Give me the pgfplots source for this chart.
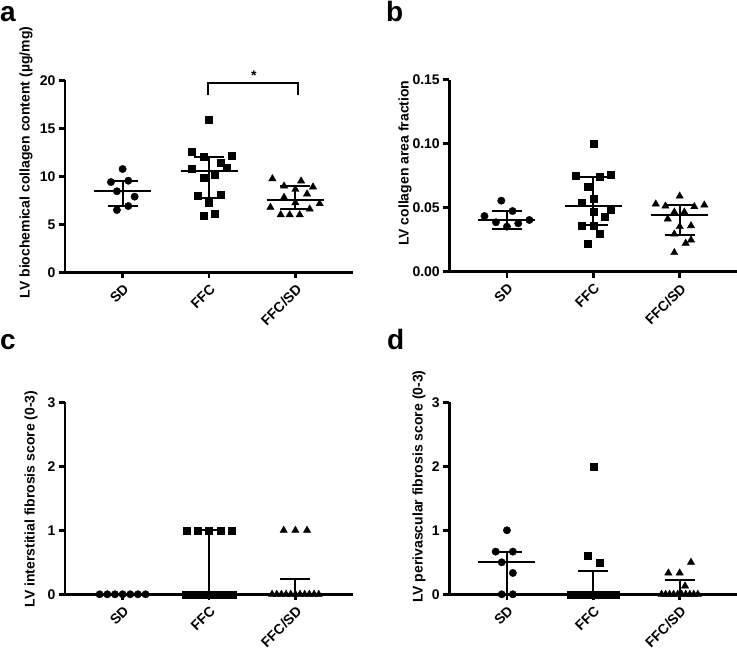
\documentclass[border=0pt]{standalone}
\usepackage{pgfplots}
\pgfplotsset{compat=1.18}
\usepackage{fontspec}
\setmainfont{Liberation Sans}
\newcommand{\tickfnt}{\fontsize{14}{16}\selectfont\bfseries}
\newcommand{\labfnt}{\fontsize{14}{16}\selectfont\bfseries}
\newcommand{\letfnt}{\fontsize{28}{30}\selectfont\bfseries}
\pgfplotsset{
  panel/.style={
    scale only axis, width=288pt, height=192pt,
    axis lines=left, axis line style={line width=2.5pt,-},
    xmin=0.333, xmax=3.667,
    xtick={1,2,3}, xticklabels={SD,FFC,FFC/SD},
    x tick label style={rotate=45, anchor=north east},
    every tick label/.append style={font=\tickfnt},
    tick style={line width=2.5pt, black},
    major tick length=6pt,
    tick align=outside,
    clip=false,
    every axis label/.append style={font=\labfnt},
  },
  pts/.style={only marks, black, mark options={fill=black, draw=black}},
  msd/.style={only marks, black, mark=-, mark size=28.5pt, mark options={line width=2pt},
    error bars/.cd, y dir=both, y explicit, error mark=|,
    error bar style={line width=2pt, black},
    error mark options={line width=2pt, mark size=15pt, black}},
}
\begin{document}
\begin{tikzpicture}[x=1pt,y=1pt]
\useasboundingbox (0,0) rectangle (737,649);
\node[anchor=base west, inner sep=0, font=\letfnt] at (0,627) {a};
\node[anchor=base west, inner sep=0, font=\letfnt] at (386,627) {b};
\node[anchor=base west, inner sep=0, font=\letfnt] at (0,299) {c};
\node[anchor=base west, inner sep=0, font=\letfnt] at (387,299) {d};

% panel a
\begin{axis}[panel, at={(65pt,376.7pt)}, anchor=south west,
  ymin=0, ymax=20, ytick={0,5,10,15,20}, yticklabels={0,5,10,15,20},
  ylabel={LV biochemical collagen content (µg/mg)},
  ylabel style={at={(axis description cs:-0.135,0.572)}, anchor=center}]
\addplot[pts, mark=*, mark size=3.7pt] coordinates {(1.0,10.76) (0.865,9.4) (1.066,9.54) (0.934,8.44) (1.139,7.88) (1.066,6.9) (0.934,6.49)};
\addplot[pts, mark=square*, mark size=3.5pt] coordinates {(2.0,15.9) (1.8,12.56) (1.934,12.04) (2.266,12.15) (2.131,11.39) (1.8,10.83) (2.2,10.86) (1.934,9.9) (2.066,10.17) (1.865,7.95) (2.131,8.05) (2.0,7.25) (1.934,5.94) (2.066,6.07)};
\addplot[pts, mark=triangle*, mark size=4.2pt] coordinates {(2.734,9.75) (2.869,8.99) (3.066,9.51) (3.204,8.89) (3.0,8.64) (3.135,8.16) (2.869,7.81) (3.0,7.25) (3.281,7.15) (2.711,6.77) (3.166,6.59) (2.83,6.0) (2.934,6.0) (3.05,6.0)};
\addplot[msd] coordinates {(1,8.44) += (0,1.10) -= (0,1.54) (2,10.52) += (0,1.52) -= (0,2.75) (3,7.53) += (0,1.46) -= (0,0.97)};
\addplot[black, line width=2pt] coordinates {(1.99,18.5) (1.99,19.7) (3.03,19.7) (3.03,18.5)};
\node[font=\tickfnt] at (axis cs:2.52,20.45) {*};
\end{axis}

% panel b
\begin{axis}[panel, at={(449.3pt,377.3pt)}, anchor=south west,
  ymin=0, ymax=0.15, ytick={0,0.05,0.10,0.15}, yticklabels={0.00,0.05,0.10,0.15},
  ylabel={LV collagen area fraction},
  ylabel style={at={(axis description cs:-0.154,0.565)}, anchor=center}]
\addplot[pts, mark=*, mark size=3.7pt] coordinates {(0.935,0.0555) (0.74,0.0435) (1.065,0.0474) (0.873,0.0386) (1.0,0.0352) (1.131,0.0378) (1.26,0.0404)};
\addplot[pts, mark=square*, mark size=3.5pt] coordinates {(2.0,0.0998) (1.8,0.0753) (2.069,0.0742) (2.2,0.0755) (1.935,0.0664) (2.0,0.057) (1.869,0.0539) (2.2,0.0487) (2.0,0.0466) (2.135,0.043) (1.869,0.0362) (2.0,0.0362) (2.069,0.0295) (1.935,0.0222)};
\addplot[pts, mark=triangle*, mark size=4.2pt] coordinates {(3.0,0.0591) (2.723,0.0529) (2.835,0.0513) (3.285,0.0521) (3.169,0.0508) (2.938,0.0466) (3.054,0.0466) (2.862,0.0412) (3.131,0.0359) (3.0,0.0352) (2.938,0.0294) (3.131,0.0248) (3.069,0.0222) (2.938,0.0149)};
\addplot[msd] coordinates {(1,0.0401) += (0,0.0073) -= (0,0.0066) (2,0.0516) += (0,0.0226) -= (0,0.0154) (3,0.0443) += (0,0.0077) -= (0,0.0153)};
\end{axis}

% panel c
\begin{axis}[panel, at={(65pt,54.7pt)}, anchor=south west,
  ymin=0, ymax=3, ytick={0,1,2,3}, yticklabels={0,1,2,3},
  ylabel={LV interstitial fibrosis score (0-3)},
  ylabel style={at={(axis description cs:-0.118,0.496)}, anchor=center}]
\addplot[pts, mark=*, mark size=3.7pt] coordinates {(0.734,0) (0.823,0) (0.911,0) (1.0,0) (1.089,0) (1.177,0) (1.266,0)};
\addplot[pts, mark=square*, mark size=3.5pt] coordinates {(1.742,1) (1.873,1) (2.0,1) (2.131,1) (2.258,1) (1.73,0) (1.7975,0) (1.865,0) (1.9325,0) (2.0,0) (2.0675,0) (2.135,0) (2.2025,0) (2.27,0)};
\addplot[pts, mark=triangle*, mark size=4.2pt] coordinates {(2.865,1) (3.0,1) (3.135,1) (2.73,0) (2.784,0) (2.838,0) (2.892,0) (2.946,0) (3.0,0) (3.054,0) (3.108,0) (3.162,0) (3.216,0) (3.27,0)};
\addplot[msd] coordinates {(1,0) += (0,0) -= (0,0) (2,0) += (0,1) -= (0,0) (3,0) += (0,0.24) -= (0,0)};
\end{axis}

% panel d
\begin{axis}[panel, at={(449.3pt,54.7pt)}, anchor=south west,
  ymin=0, ymax=3, ytick={0,1,2,3}, yticklabels={0,1,2,3},
  ylabel={LV perivascular fibrosis score (0-3)},
  ylabel style={at={(axis description cs:-0.105,0.561)}, anchor=center}]
\addplot[pts, mark=*, mark size=3.7pt] coordinates {(1.0,1.0) (0.87,0.667) (1.069,0.667) (0.94,0.5) (1.069,0.333) (0.94,0) (1.069,0)};
\addplot[pts, mark=square*, mark size=3.5pt] coordinates {(2.0,2.0) (1.931,0.6) (2.069,0.5) (1.735,0) (1.788,0) (1.841,0) (1.894,0) (1.947,0) (2.0,0) (2.053,0) (2.106,0) (2.159,0) (2.212,0) (2.265,0)};
\addplot[pts, mark=triangle*, mark size=4.2pt] coordinates {(3.131,0.5) (2.869,0.333) (3.0,0.333) (3.062,0.13) (2.79,0) (2.837,0) (2.883,0) (2.93,0) (2.977,0) (3.023,0) (3.07,0) (3.117,0) (3.163,0) (3.21,0)};
\addplot[msd] coordinates {(1,0.5) += (0,0.167) -= (0,0.5) (2,0) += (0,0.37) -= (0,0) (3,0) += (0,0.23) -= (0,0)};
\end{axis}
\end{tikzpicture}
\end{document}
